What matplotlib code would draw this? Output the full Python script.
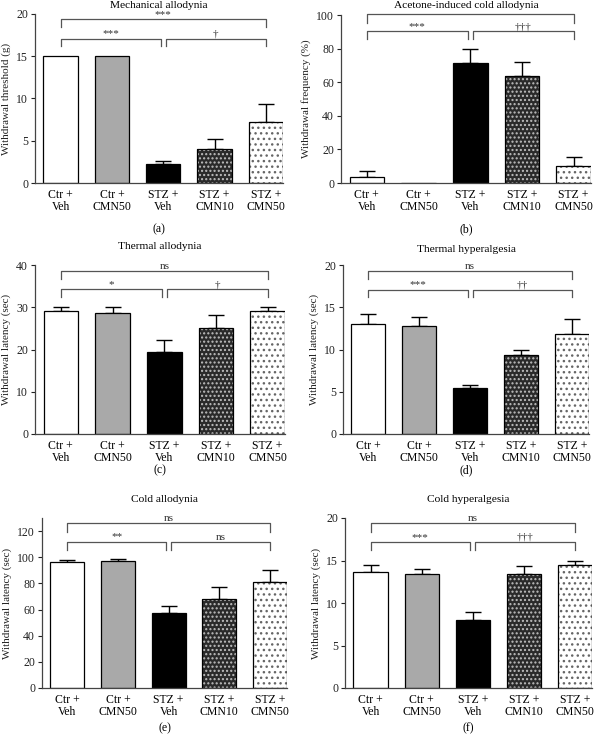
import matplotlib
matplotlib.use("Agg")
import matplotlib.pyplot as plt
import numpy as np

plt.rcParams["font.family"] = ["Liberation Serif", "DejaVu Serif"]
plt.rcParams["hatch.linewidth"] = 1.0

groups = ["Ctr +\nVeh", "Ctr +\nCMN50", "STZ +\nVeh", "STZ +\nCMN10", "STZ +\nCMN50"]

mech_mean = [15, 15, 2.25, 4.0, 7.2]
mech_err = [0, 0, 0.35, 1.2, 2.1]

acetone_mean = [3.7, 0, 71.4, 63.9, 9.9]
acetone_err = [3.6, 0, 8.4, 7.9, 5.8]

thermal_allo_mean = [29.1, 28.6, 19.4, 25.0, 29.1]
thermal_allo_err = [0.9, 1.4, 2.9, 3.2, 0.9]

thermal_hyper_mean = [13.0, 12.8, 5.4, 9.4, 11.8]
thermal_hyper_err = [1.2, 1.0, 0.4, 0.6, 1.8]

cold_allo_mean = [96.2, 97.2, 57.3, 68.0, 81.0]
cold_allo_err = [2.0, 1.8, 5.1, 9.4, 9.0]

cold_hyper_mean = [13.66, 13.4, 8.0, 13.4, 14.5]
cold_hyper_err = [0.84, 0.6, 1.0, 0.9, 0.5]

W, H = 600, 737
fig = plt.figure(figsize=(W / 100, H / 100), dpi=100)


def px_axes(left, right, top, bottom):
    return fig.add_axes([left / W, 1 - bottom / H, (right - left) / W, (bottom - top) / H])


def bracket(ax, x0, x1, ytop, ydrop, label):
    ax.plot([x0, x0, x1, x1], [ydrop, ytop, ytop, ydrop], color="#555555",
            lw=0.9, clip_on=False)
    if label:
        ax.text((x0 + x1) / 2, ytop, label, ha="center", va="bottom",
                fontsize=8, color="#333333", clip_on=False)


def panel(box, means, errs, ylim, yticks, ylabel, title, title_y, letter, letter_y,
          brackets):
    ax = px_axes(*box)
    x = np.arange(len(means))
    bw = 0.67
    # plain bars
    ax.bar(x[0], means[0], bw, color="white", edgecolor="black", lw=0.9, zorder=2)
    ax.bar(x[1], means[1], bw, color="#a9a9a9", edgecolor="black", lw=0.9, zorder=2)
    ax.bar(x[2], means[2], bw, color="black", edgecolor="black", lw=0.9, zorder=2)
    # patterned bars: fill + hatch, then outline
    ax.bar(x[3], means[3], bw, color="#2a2a2a", edgecolor="#bfbfbf", hatch="....",
           lw=0, zorder=2)
    ax.bar(x[4], means[4], bw, color="white", edgecolor="#666666", hatch="...",
           lw=0, zorder=2)
    ax.bar(x[3:], means[3:], bw, fill=False, edgecolor="black", lw=0.9, zorder=3)
    for xi, m, e in zip(x, means, errs):
        if e > 0:
            ax.errorbar(xi, m, yerr=[[0], [e]], color="black", capsize=5.5,
                        elinewidth=1.0, capthick=1.0, zorder=1)
    ax.set_xlim(-0.5, len(means) - 1 + bw / 2)
    ax.set_ylim(*ylim)
    ax.set_yticks(yticks)
    ax.set_yticklabels([f"{t:g}" for t in yticks], fontsize=8.5)
    ax.set_xticks(x)
    ax.set_xticklabels(groups, fontsize=8.5)
    for lbl in ax.get_xticklabels():
        lbl.set_linespacing(1.08)
    ax.tick_params(axis="x", length=0, pad=4)
    ax.tick_params(axis="y", length=3, width=0.8, pad=2, colors="#222222")
    for s in ["top", "right"]:
        ax.spines[s].set_visible(False)
    for s in ["left", "bottom"]:
        ax.spines[s].set_color("#444444")
        ax.spines[s].set_linewidth(0.9)
    ax.set_ylabel(ylabel, fontsize=8, labelpad=4, color="#222222")
    cx = (box[0] + box[1]) / 2
    fig.text(cx / W, 1 - title_y / H, title, ha="center", va="center", fontsize=8.2)
    fig.text(cx / W, 1 - letter_y / H, letter, ha="center", va="center", fontsize=8.5)
    for b in brackets:
        bracket(ax, *b)
    return ax


g = 0.05
panel((35, 283, 14, 183), mech_mean, mech_err, (0, 20), [0, 5, 10, 15, 20],
      "Withdrawal threshold (g)", "Mechanical allodynia", 5, "(a)", 229,
      [(0, 4, 19.4, 18.5, "***"), (0, 2 - g, 17.1, 16.2, "***"), (2 + g, 4, 17.1, 16.2, "†")])

panel((341, 591, 15, 183), acetone_mean, acetone_err, (0, 100), [0, 20, 40, 60, 80, 100],
      "Withdrawal frequency (%)", "Acetone-induced cold allodynia", 5, "(b)", 229,
      [(0, 4, 100.6, 95.5, ""), (0, 2 - g, 90.2, 85.5, "***"), (2 + g, 4, 90.2, 85.5, "†††")])

panel((35, 285, 265, 434), thermal_allo_mean, thermal_allo_err, (0, 40), [0, 10, 20, 30, 40],
      "Withdrawal latency (sec)", "Thermal allodynia", 247, "(c)", 470,
      [(0, 4, 38.6, 36.6, "ns"), (0, 2 - g, 34.3, 32.4, "*"), (2 + g, 4, 34.3, 32.4, "†")])

panel((343, 589, 265, 434), thermal_hyper_mean, thermal_hyper_err, (0, 20), [0, 5, 10, 15, 20],
      "Withdrawal latency (sec)", "Thermal hyperalgesia", 249, "(d)", 470,
      [(0, 4, 19.3, 18.3, "ns"), (0, 2 - g, 17.1, 16.2, "***"), (2 + g, 4, 17.1, 16.2, "††")])

panel((42, 287, 518, 688), cold_allo_mean, cold_allo_err, (0, 130), [0, 20, 40, 60, 80, 100, 120],
      "Withdrawal latency (sec)", "Cold allodynia", 500, "(e)", 728,
      [(0, 4, 126, 119, "ns"), (0, 2 - g, 112, 105.5, "**"), (2 + g, 4, 112, 105.5, "ns")])

panel((345, 592, 518, 688), cold_hyper_mean, cold_hyper_err, (0, 20), [0, 5, 10, 15, 20],
      "Withdrawal latency (sec)", "Cold hyperalgesia", 500, "(f)", 728,
      [(0, 4, 19.4, 18.35, "ns"), (0, 2 - g, 17.2, 16.2, "***"), (2 + g, 4, 17.2, 16.2, "†††")])

fig.savefig("out.png", dpi=100)
